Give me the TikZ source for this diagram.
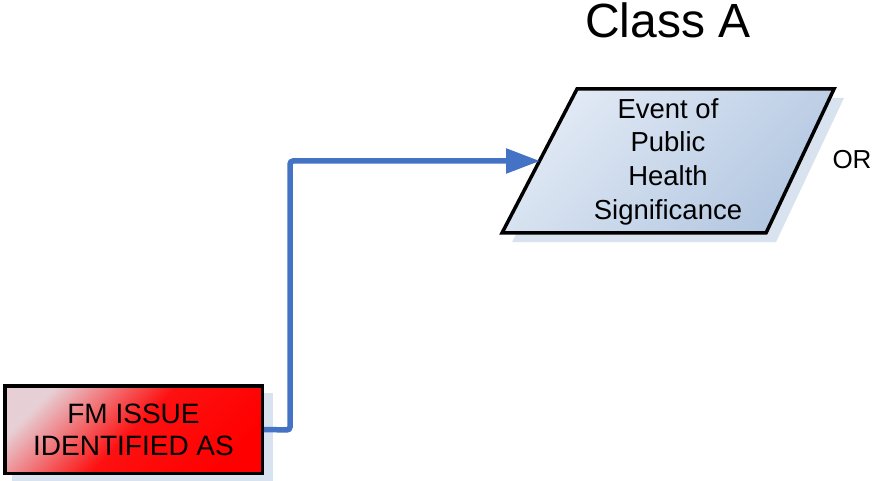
\documentclass[tikz,border=0pt]{standalone}
\usepackage{fontspec}
\setmainfont{Liberation Sans}
\usetikzlibrary{arrows.meta}
\definecolor{flowblue}{HTML}{4472C4}
\definecolor{shadowblue}{HTML}{D9E2EF}
\definecolor{paraA}{HTML}{E2EAF5}
\definecolor{paraB}{HTML}{B3C7E1}
\definecolor{redlight}{HTML}{E6D0D6}
\tikzset{
  fmbox/.style={draw=black, line width=3.5pt, minimum width=257.5pt, minimum height=87.5pt,
    inner sep=0pt, align=center, font=\fontsize{28}{32}\selectfont,
    top color=redlight, bottom color=red, middle color=red!92!redlight, shading angle=45},
  parashape/.style={draw=black, line width=3.5pt, top color=paraA, bottom color=paraB, shading angle=45},
  paratext/.style={align=center, inner sep=0pt, font=\fontsize{27.5}{33.7}\selectfont},
  shadowfill/.style={fill=shadowblue},
  flow/.style={draw=flowblue, line width=5.5pt, rounded corners=3pt, -{Triangle[length=34pt,width=24pt]}},
  plaintext/.style={inner sep=0pt}
}
\begin{document}
\begin{tikzpicture}[x=1pt,y=-1pt]
\useasboundingbox (0,0) rectangle (878,481);
% shadows
\fill[shadowfill] (12,393) rectangle (273,484);
\fill[shadowfill] (587,98) -- (844,98) -- (776,242) -- (512,242) -- cycle;
% parallelogram
\draw[parashape] (577,89) -- (834,89) -- (766,233) -- (502,233) -- cycle;
\node[paratext] (phs) at (668,161.5) {Event of\\Public\\Health\\Significance};
\coordinate (phsin) at (540,161);
% FM box
\node[fmbox] (fm) at (133.5,429.5) {FM ISSUE\\IDENTIFIED AS};
% labels
\node[plaintext, anchor=base, font=\fontsize{48}{52}\selectfont] (classa) at (668,38) {Class A};
\node[plaintext, anchor=base, font=\fontsize{26}{30}\selectfont] (or) at (852,169) {OR};
% connector
\coordinate (bend) at (290,430);
\draw[flow] (fm.east) -- (bend) |- (phsin);
\end{tikzpicture}
\end{document}
